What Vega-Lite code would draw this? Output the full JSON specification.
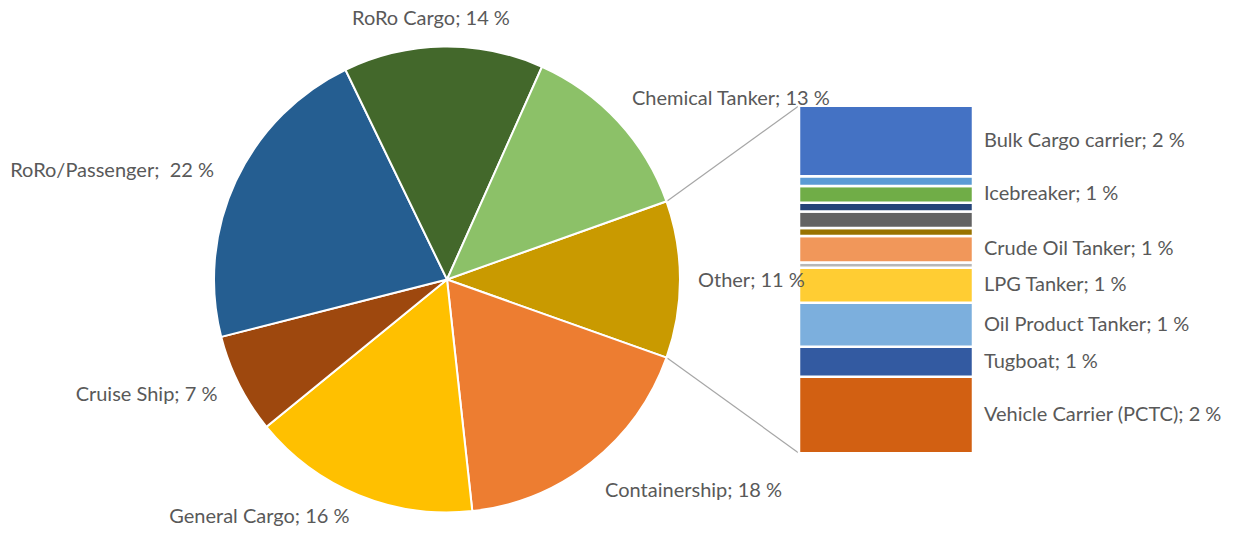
{
  "$schema": "https://vega.github.io/schema/vega-lite/v6.json",
  "width": 1239,
  "height": 536,
  "autosize": {"type": "fit", "contains": "padding"},
  "padding": 0,
  "background": "white",
  "config": {"view": {"stroke": null}, "text": {"font": "Lato", "fontSize": 20, "color": "#595959"}},
  "datasets": {
    "pie": [
      {"type": "Other", "value": 11, "ord": 1, "label": "Other; 11 %"},
      {"type": "Containership", "value": 18, "ord": 2, "label": "Containership; 18 %"},
      {"type": "General Cargo", "value": 16, "ord": 3, "label": "General Cargo; 16 %"},
      {"type": "Cruise Ship", "value": 7, "ord": 4, "label": "Cruise Ship; 7 %"},
      {"type": "RoRo/Passenger", "value": 22, "ord": 5, "label": "RoRo/Passenger;\u00a0 22 %"},
      {"type": "RoRo Cargo", "value": 14, "ord": 6, "label": "RoRo Cargo; 14 %"},
      {"type": "Chemical Tanker", "value": 13, "ord": 7, "label": "Chemical Tanker; 13 %"}
    ],
    "other": [
      {"type": "Vehicle Carrier (PCTC)", "pct": 2.42, "ord": 1, "label": "Vehicle Carrier (PCTC); 2 %"},
      {"type": "Tugboat", "pct": 0.95, "ord": 2, "label": "Tugboat; 1 %"},
      {"type": "Oil Product Tanker", "pct": 1.39, "ord": 3, "label": "Oil Product Tanker; 1 %"},
      {"type": "LPG Tanker", "pct": 1.11, "ord": 4, "label": "LPG Tanker; 1 %"},
      {"type": "Other type 1", "pct": 0.17, "ord": 5, "label": ""},
      {"type": "Crude Oil Tanker", "pct": 0.84, "ord": 6, "label": "Crude Oil Tanker; 1 %"},
      {"type": "Other type 2", "pct": 0.25, "ord": 7, "label": ""},
      {"type": "Other type 3", "pct": 0.52, "ord": 8, "label": ""},
      {"type": "Other type 4", "pct": 0.28, "ord": 9, "label": ""},
      {"type": "Icebreaker", "pct": 0.53, "ord": 10, "label": "Icebreaker; 1 %"},
      {"type": "Other type 5", "pct": 0.31, "ord": 11, "label": ""},
      {"type": "Bulk Cargo carrier", "pct": 2.23, "ord": 12, "label": "Bulk Cargo carrier; 2 %"}
    ]
  },
  "resolve": {"scale": {"color": "independent"}},
  "layer": [
    {
      "data": {"values": [{}]},
      "mark": {"type": "rule", "color": "#A6A6A6", "strokeWidth": 1.2},
      "encoding": {
        "x": {"datum": 666.5, "type": "quantitative", "scale": {"domain": [0, 1239], "nice": false, "zero": false}, "axis": null},
        "y": {"datum": 7.968, "type": "quantitative", "scale": {"domain": [-2.592, 14.3506], "nice": false, "zero": false}, "axis": null},
        "x2": {"datum": 799},
        "y2": {"datum": 11}
      }
    },
    {
      "data": {"values": [{}]},
      "mark": {"type": "rule", "color": "#A6A6A6", "strokeWidth": 1.2},
      "encoding": {
        "x": {"datum": 666.5, "type": "quantitative", "scale": {"domain": [0, 1239], "nice": false, "zero": false}, "axis": null},
        "y": {"datum": 3.032, "type": "quantitative", "scale": {"domain": [-2.592, 14.3506], "nice": false, "zero": false}, "axis": null},
        "x2": {"datum": 799},
        "y2": {"datum": 0}
      }
    },
    {
      "data": {"name": "pie"},
      "mark": {"type": "arc", "outerRadius": 233, "stroke": "white", "strokeWidth": 2},
      "encoding": {
        "x": {"datum": 447, "type": "quantitative", "scale": {"domain": [0, 1239], "nice": false, "zero": false}, "axis": null},
        "y": {"datum": 5.5, "type": "quantitative", "scale": {"domain": [-2.592, 14.3506], "nice": false, "zero": false}, "axis": null},
        "theta": {"field": "value", "type": "quantitative", "stack": true, "scale": {"range": [1.22864, 7.51183]}},
        "order": {"field": "ord", "type": "quantitative"},
        "color": {
          "field": "type", "type": "nominal", "legend": null,
          "scale": {
            "domain": ["Other", "Containership", "General Cargo", "Cruise Ship", "RoRo/Passenger", "RoRo Cargo", "Chemical Tanker"],
            "range": ["#C99A00", "#ED7D31", "#FFC000", "#9E480E", "#255E91", "#43682B", "#8CC168"]
          }
        }
      }
    },
    {
      "data": {"name": "other"},
      "transform": [{"stack": "pct", "groupby": [], "sort": [{"field": "ord", "order": "ascending"}], "as": ["y0", "y1"]}],
      "mark": {"type": "rect", "stroke": "white", "strokeWidth": 2.5},
      "encoding": {
        "x": {"datum": 799, "type": "quantitative", "scale": {"domain": [0, 1239], "nice": false, "zero": false}, "axis": null},
        "x2": {"datum": 973},
        "y": {"field": "y0", "type": "quantitative", "scale": {"domain": [-2.592, 14.3506], "nice": false, "zero": false}, "axis": null},
        "y2": {"field": "y1"},
        "color": {
          "field": "type", "type": "nominal", "legend": null,
          "scale": {
            "domain": ["Vehicle Carrier (PCTC)", "Tugboat", "Oil Product Tanker", "LPG Tanker", "Other type 1", "Crude Oil Tanker", "Other type 2", "Other type 3", "Other type 4", "Icebreaker", "Other type 5", "Bulk Cargo carrier"],
            "range": ["#D26012", "#335AA1", "#7CAFDD", "#FFCD33", "#B7B7B7", "#F1975A", "#997300", "#636363", "#264478", "#70AD47", "#5B9BD5", "#4472C4"]
          }
        }
      }
    },
    {
      "data": {"name": "pie"},
      "mark": {"type": "text", "radius": 251, "align": "left", "baseline": "middle", "dy": 2},
      "encoding": {
        "x": {"datum": 447, "type": "quantitative", "scale": {"domain": [0, 1239], "nice": false, "zero": false}, "axis": null},
        "y": {"datum": 5.5, "type": "quantitative", "scale": {"domain": [-2.592, 14.3506], "nice": false, "zero": false}, "axis": null},
        "theta": {"field": "value", "type": "quantitative", "stack": true, "scale": {"range": [1.22864, 7.51183]}},
        "order": {"field": "ord", "type": "quantitative"},
        "text": {"condition": {"test": "datum.type === 'Other'", "field": "label"}, "value": ""}
      }
    },
    {
      "data": {"name": "pie"},
      "mark": {"type": "text", "radius": 252, "align": "left", "baseline": "middle", "dy": -9},
      "encoding": {
        "x": {"datum": 447, "type": "quantitative", "scale": {"domain": [0, 1239], "nice": false, "zero": false}, "axis": null},
        "y": {"datum": 5.5, "type": "quantitative", "scale": {"domain": [-2.592, 14.3506], "nice": false, "zero": false}, "axis": null},
        "theta": {"field": "value", "type": "quantitative", "stack": true, "scale": {"range": [1.22864, 7.51183]}},
        "order": {"field": "ord", "type": "quantitative"},
        "text": {"condition": {"test": "datum.type === 'Chemical Tanker'", "field": "label"}, "value": ""}
      }
    },
    {
      "data": {"name": "pie"},
      "mark": {"type": "text", "radius": 255, "align": "left", "baseline": "middle", "dy": 11},
      "encoding": {
        "x": {"datum": 447, "type": "quantitative", "scale": {"domain": [0, 1239], "nice": false, "zero": false}, "axis": null},
        "y": {"datum": 5.5, "type": "quantitative", "scale": {"domain": [-2.592, 14.3506], "nice": false, "zero": false}, "axis": null},
        "theta": {"field": "value", "type": "quantitative", "stack": true, "scale": {"range": [1.22864, 7.51183]}},
        "order": {"field": "ord", "type": "quantitative"},
        "text": {"condition": {"test": "datum.type === 'Containership'", "field": "label"}, "value": ""}
      }
    },
    {
      "data": {"name": "pie"},
      "mark": {"type": "text", "radius": 257, "align": "right", "baseline": "middle"},
      "encoding": {
        "x": {"datum": 447, "type": "quantitative", "scale": {"domain": [0, 1239], "nice": false, "zero": false}, "axis": null},
        "y": {"datum": 5.5, "type": "quantitative", "scale": {"domain": [-2.592, 14.3506], "nice": false, "zero": false}, "axis": null},
        "theta": {"field": "value", "type": "quantitative", "stack": true, "scale": {"range": [1.22864, 7.51183]}},
        "order": {"field": "ord", "type": "quantitative"},
        "text": {"condition": {"test": "indexof(['RoRo/Passenger','Cruise Ship','General Cargo'], datum.type) >= 0", "field": "label"}, "value": ""}
      }
    },
    {
      "data": {"name": "pie"},
      "mark": {"type": "text", "radius": 261, "align": "center", "baseline": "middle", "dx": -12},
      "encoding": {
        "x": {"datum": 447, "type": "quantitative", "scale": {"domain": [0, 1239], "nice": false, "zero": false}, "axis": null},
        "y": {"datum": 5.5, "type": "quantitative", "scale": {"domain": [-2.592, 14.3506], "nice": false, "zero": false}, "axis": null},
        "theta": {"field": "value", "type": "quantitative", "stack": true, "scale": {"range": [1.22864, 7.51183]}},
        "order": {"field": "ord", "type": "quantitative"},
        "text": {"condition": {"test": "datum.type === 'RoRo Cargo'", "field": "label"}, "value": ""}
      }
    },
    {
      "data": {"name": "other"},
      "mark": {"type": "text", "align": "left", "baseline": "middle"},
      "encoding": {
        "x": {"datum": 984, "type": "quantitative", "scale": {"domain": [0, 1239], "nice": false, "zero": false}, "axis": null},
        "y": {"field": "pct", "type": "quantitative", "stack": "zero", "bandPosition": 0.5, "scale": {"domain": [-2.592, 14.3506], "nice": false, "zero": false}, "axis": null},
        "order": {"field": "ord", "type": "quantitative"},
        "text": {"field": "label"}
      }
    }
  ]
}
